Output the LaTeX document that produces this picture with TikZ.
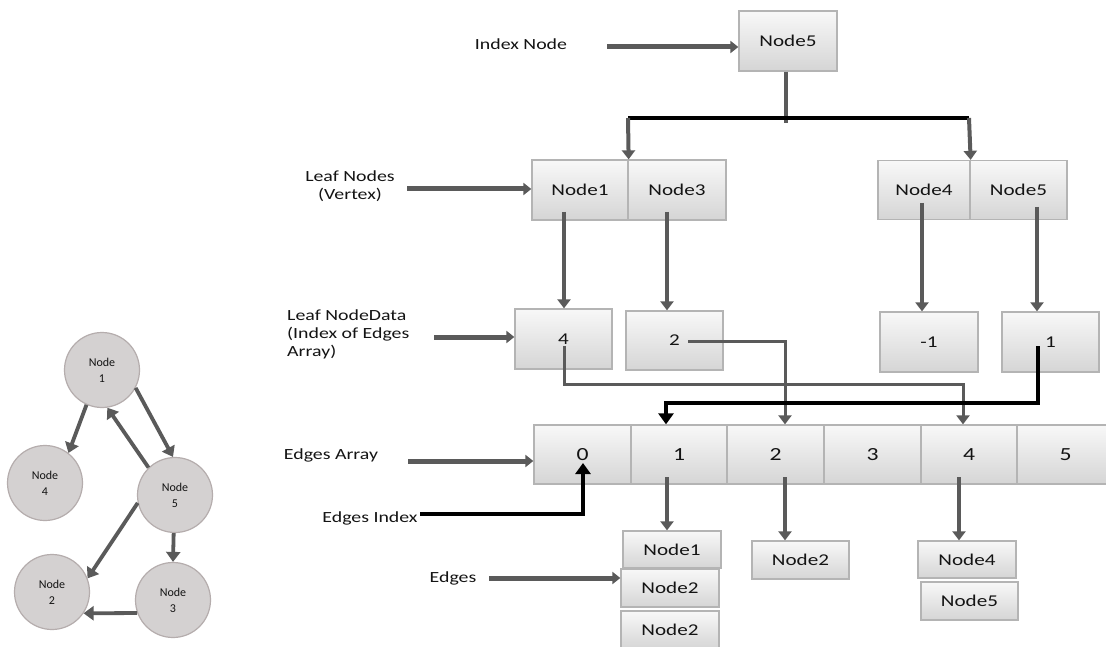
\documentclass[tikz,border=0pt]{standalone}
\usepackage{fontspec}
\setmainfont{Carlito}
\newfontfamily\lblfont[FakeStretch=1.28]{Carlito}
\usetikzlibrary{arrows.meta}
\definecolor{linegray}{HTML}{5A5A5A}
\definecolor{cellTop}{HTML}{F8F8F8}
\definecolor{cellBot}{HTML}{D5D5D5}
\definecolor{cellborder}{HTML}{B4B4B4}
\definecolor{circfill}{HTML}{D4D1D1}
\definecolor{circborder}{HTML}{B5ADAD}
\definecolor{textc}{HTML}{141414}
\tikzset{
  lbl/.style={font=\lblfont\fontsize{15.5}{18}\selectfont, text=textc, align=center, inner sep=0pt},
  cell/.style={draw=cellborder, line width=1.3pt, top color=cellTop, bottom color=cellBot,
    inner sep=0pt, font=\lblfont\fontsize{16.5}{18}\selectfont, text=textc},
  bigcell/.style={cell, minimum height=59pt, font=\lblfont\fontsize{18.5}{20}\selectfont},
  smallcell/.style={cell, minimum width=98pt, minimum height=37pt},
  vert/.style={circle, draw=circborder, line width=1.2pt, fill=circfill, minimum size=75pt,
    inner sep=0pt, align=center, font=\fontsize{12}{16}\selectfont, text=textc},
  garrow/.style={draw=linegray, line width=4pt, -{Triangle[length=9pt,width=13pt]}},
  gline/.style={draw=linegray, line width=4pt},
  harrow/.style={draw=linegray, line width=5pt, -{Triangle[length=8pt,width=12pt]}},
  bline/.style={draw=black, line width=3.2pt},
  barrow/.style={draw=black, line width=3.5pt, -{Triangle[length=11pt,width=15pt]}},
  carrow/.style={draw=linegray, line width=3.8pt, -{Triangle[length=10pt,width=14pt]}},
  dline/.style={draw=linegray, line width=3pt, -{Triangle[length=9pt,width=13pt]}}
}
\begin{document}
\begin{tikzpicture}[x=1pt,y=-1pt]
\clip (0,0) rectangle (1106,647);
\fill[white] (0,0) rectangle (1106,647);

% ---------- graph ----------
\node[vert] (c1) at (102,370) {Node\\1};
\node[vert] (c4) at (45,483) {Node\\4};
\node[vert] (c5) at (175,495) {Node\\5};
\node[vert] (c2) at (52,592) {Node\\2};
\node[vert] (c3) at (173,600) {Node\\3};
\draw[carrow] (c1.-114) -- (c4.52);
\draw[carrow] (c1.-28) -- (c5.93);
\draw[carrow] (c5.134) -- (c1.-82);
\draw[carrow] (c5.192) -- (c2.21);
\draw[carrow] (c5.-92) -- (c3.90);
\draw[carrow] (c3.200) -- (c2.-34);

% ---------- labels ----------
\node[lbl] (tIdx) at (521,44) {Index Node};
\node[lbl] (tLeaf) at (350,186) {Leaf Nodes\\(Vertex)};
\node[lbl, align=left, anchor=west] (tData) at (287,334) {Leaf NodeData\\(Index of Edges\\Array)};
\node[lbl] (tArr) at (331,455) {Edges Array};
\node[lbl] (tEIdx) at (370,518) {Edges Index};
\node[lbl] (tEdg) at (453,578) {Edges};

% ---------- index / leaf nodes ----------
\node[cell, minimum width=98pt, minimum height=60pt] (idx) at (788,41) {Node5};
\node[cell, minimum width=96pt, minimum height=60pt] (ln1) at (580,190) {Node1};
\node[cell, minimum width=98pt, minimum height=60pt] (ln3) at (677,190) {Node3};
\node[cell, minimum width=92pt, minimum height=59pt] (ln4) at (924,190) {Node4};
\node[cell, minimum width=97pt, minimum height=59pt] (ln5) at (1018.5,190) {Node5};

% ---------- leaf node data ----------
\node[cell, minimum width=97pt, minimum height=60pt] (d4) at (563.5,339) {4};
\node[cell, minimum width=97pt, minimum height=59pt] (d2) at (674.5,340.5) {2};
\node[cell, minimum width=98pt, minimum height=60pt] (dm1) at (929,342) {-1};
\node[cell, minimum width=97pt, minimum height=60pt] (d1) at (1050.5,342) {1};

% ---------- edges array ----------
\node[bigcell, minimum width=97pt] (e0) at (582.5,454.5) {0};
\node[bigcell, minimum width=96pt] (e1) at (679,454.5) {1};
\node[bigcell, minimum width=97pt] (e2) at (775.5,454.5) {2};
\node[bigcell, minimum width=97pt] (e3) at (872.5,454.5) {3};
\node[bigcell, minimum width=96pt] (e4) at (969,454.5) {4};
\node[bigcell, minimum width=97pt] (e5) at (1065.5,454.5) {5};

% ---------- edge lists ----------
\node[smallcell] (n1) at (672,549.5) {Node1};
\node[smallcell, minimum height=38pt] (n2a) at (670,588) {Node2};
\node[smallcell, minimum height=38pt] (n2b) at (670,630) {Node2};
\node[smallcell, minimum width=97pt, minimum height=38pt] (n2c) at (800.5,560) {Node2};
\node[smallcell] (n4) at (967,559.5) {Node4};
\node[smallcell, minimum width=97pt, minimum height=38pt] (n5) at (969.5,601) {Node5};

% ---------- label arrows ----------
\coordinate (aIdx) at (607,47);
\coordinate (aLeaf) at (407,189);
\coordinate (aData) at (434,337);
\coordinate (aArr) at (408,461);
\coordinate (aEdg) at (489,578);
\draw[harrow] (aIdx) -- (aIdx -| idx.west);
\draw[harrow] (aLeaf) -- (aLeaf -| ln1.west);
\draw[harrow] (aData) -- (aData -| d4.west);
\draw[harrow] (aArr) -- (aArr -| e0.west);
\draw[harrow] (aEdg) -- (aEdg -| n2a.west);

% ---------- index node to leaf nodes ----------
\coordinate (busL) at (628,118);
\coordinate (busR) at (969,118);
\coordinate (stem) at (786,123);
\draw[gline] (idx.south -| stem) -- (stem);
\draw[bline] (busL) -- (busR);
\draw[garrow] (busL) -- (ln1.north east);
\draw[garrow] (busR) -- (ln4.north east);

% ---------- leaf nodes to node data ----------
\coordinate (s1) at (564,212);
\coordinate (s3) at (667,212);
\coordinate (s4) at (922,203);
\coordinate (s5) at (1037,207);
\draw[garrow] (s1) -- (s1 |- d4.north);
\draw[garrow] (s3) -- (s3 |- d2.north);
\draw[garrow] (s4) -- (s4 |- dm1.north);
\draw[garrow] (s5) -- (s5 |- d1.north);

% ---------- node data to edges array ----------
\coordinate (p2) at (688,341);
\coordinate (p2b) at (785,341);
\draw[dline] (p2) -- (p2b) -- (p2b |- e2.north);
\coordinate (p4) at (564,346);
\coordinate (p4a) at (564,384);
\coordinate (p4b) at (963,384);
\draw[dline] (p4) -- (p4a) -- (p4b) -- (p4b |- e4.north);
\coordinate (p1) at (1038,346);
\coordinate (p1a) at (1038,403);
\coordinate (p1b) at (666,403);
\draw[barrow] (p1) -- (p1a) -- (p1b) -- (p1b |- e1.north);

% ---------- edges index ----------
\coordinate (q0) at (420,514);
\coordinate (q1) at (583,514);
\coordinate (q2) at (583,463);
\draw[barrow] (q0) -- (q1) -- (q2);

% ---------- edges array to edge lists ----------
\coordinate (r1) at (667,477);
\coordinate (r2) at (785,477);
\coordinate (r4) at (959,477);
\draw[garrow] (r1) -- (r1 |- n1.north);
\draw[garrow] (r2) -- (r2 |- n2c.north);
\draw[garrow] (r4) -- (r4 |- n4.north);
\end{tikzpicture}
\end{document}
